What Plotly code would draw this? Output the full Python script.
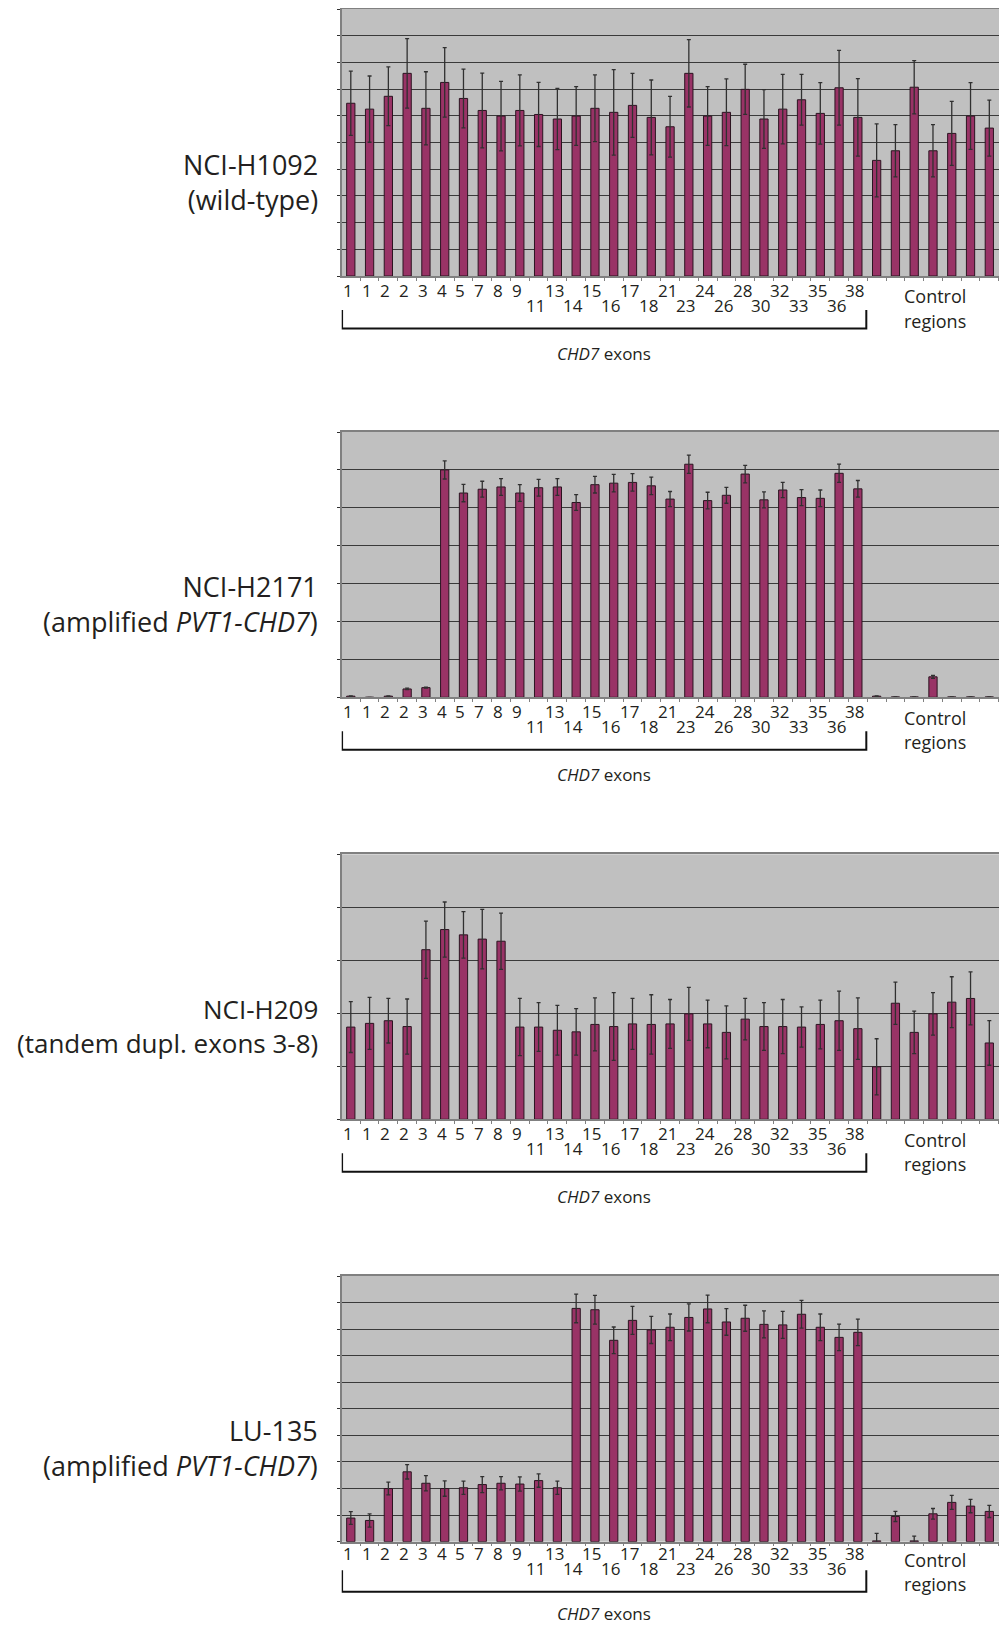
import plotly.graph_objects as go

# ---------------- data ----------------
exon_labels = ["1", "1", "2", "2", "3", "4", "5", "7", "8", "9", "11", "13", "14", "15",
               "16", "17", "18", "21", "23", "24", "26", "28", "30", "32", "33", "35", "36", "38"]
n_control = 8

panel_titles = [
    ("NCI-H1092", "(wild-type)"),
    ("NCI-H2171", "(amplified <i>PVT1-CHD7</i>)"),
    ("NCI-H209", "(tandem dupl. exons 3-8)"),
    ("LU-135", "(amplified <i>PVT1-CHD7</i>)"),
]

h1092_vals = [6.47, 6.25, 6.73, 7.59, 6.28, 7.25, 6.65, 6.20, 5.99, 6.20, 6.05, 5.88, 5.99, 6.28,
              6.13, 6.39, 5.94, 5.59, 7.59, 5.99, 6.13, 6.99, 5.88, 6.25, 6.60, 6.09, 7.05, 5.94,
              4.33, 4.69, 7.07, 4.69, 5.34, 5.99, 5.54, 2.28]
h1092_err = [1.20, 1.24, 1.10, 1.30, 1.37, 1.30, 1.10, 1.40, 1.30, 1.33, 1.20, 1.15, 1.10, 1.25,
             1.60, 1.20, 1.40, 1.14, 1.26, 1.10, 1.25, 0.94, 1.10, 1.30, 0.95, 1.15, 1.40, 1.45,
             1.37, 0.98, 1.00, 0.98, 1.20, 1.25, 1.05, 1.20]

h2171_vals = [0.03, 0.0, 0.03, 0.22, 0.255, 6.00, 5.39, 5.49, 5.55, 5.39, 5.53, 5.55, 5.14, 5.61,
              5.65, 5.67, 5.58, 5.23, 6.15, 5.19, 5.33, 5.89, 5.21, 5.47, 5.27, 5.25, 5.91, 5.50,
              0.03, 0.01, 0.01, 0.54, 0.01, 0.01, 0.01, 0.01]
h2171_err = [0.01, 0.0, 0.01, 0.02, 0.01, 0.24, 0.23, 0.21, 0.22, 0.22, 0.22, 0.22, 0.21, 0.22,
             0.23, 0.23, 0.23, 0.20, 0.24, 0.22, 0.21, 0.23, 0.21, 0.20, 0.21, 0.22, 0.24, 0.22,
             0.01, 0.0, 0.0, 0.04, 0.0, 0.0, 0.0, 0.0]

h209_vals = [1.74, 1.81, 1.86, 1.75, 3.20, 3.58, 3.48, 3.40, 3.36, 1.74, 1.74, 1.68, 1.65, 1.79,
             1.75, 1.80, 1.79, 1.80, 1.99, 1.80, 1.64, 1.89, 1.75, 1.75, 1.74, 1.79, 1.86, 1.71,
             0.99, 2.19, 1.64, 1.99, 2.21, 2.28, 1.44, 2.01]
h209_err = [0.48, 0.49, 0.42, 0.52, 0.54, 0.52, 0.44, 0.56, 0.53, 0.54, 0.46, 0.47, 0.44, 0.50,
            0.64, 0.48, 0.56, 0.46, 0.50, 0.45, 0.50, 0.39, 0.45, 0.51, 0.38, 0.46, 0.56, 0.58,
            0.53, 0.40, 0.40, 0.40, 0.48, 0.50, 0.42, 0.50]

lu135_vals = [0.89, 0.80, 2.00, 2.63, 2.20, 2.00, 2.03, 2.15, 2.20, 2.17, 2.30, 2.03, 8.78, 8.73,
              7.58, 8.33, 7.97, 8.07, 8.44, 8.76, 8.27, 8.41, 8.18, 8.16, 8.56, 8.07, 7.69, 7.88,
              0.03, 0.95, 0.03, 1.05, 1.48, 1.34, 1.14, 0.0]
lu135_err = [0.24, 0.25, 0.24, 0.27, 0.29, 0.29, 0.25, 0.30, 0.25, 0.27, 0.25, 0.25, 0.54, 0.54,
             0.50, 0.53, 0.51, 0.50, 0.51, 0.52, 0.50, 0.49, 0.51, 0.51, 0.52, 0.50, 0.50, 0.50,
             0.28, 0.19, 0.18, 0.20, 0.26, 0.25, 0.23, 0.0]

panel_values = [h1092_vals, h2171_vals, h209_vals, lu135_vals]
panel_errors = [h1092_err, h2171_err, h209_err, lu135_err]
panel_ymax = [10, 7, 5, 10]

# ---------------- layout constants (page pixels) ----------------
OFF = 8                      # default body margin of the html page
PAGE_W, PAGE_H = 1007, 1625
W, H = PAGE_W - OFF, PAGE_H - OFF
plot_left = 341.7
slot = 18.78
first_center = 350.8
panel_top = [9, 432, 854.3, 1276]
panel_base = [276, 697.3, 1119.3, 1541.7]
# pixel offsets below each axis: upper label row, lower label row, "Control",
# "regions", bracket top, bracket bottom, caption
below = [
    (14.5, 29.5, 20.4, 44.8, 34, 52.5, 77),
    (14.5, 29.5, 20.4, 44.8, 34, 52.5, 77),
    (14.5, 29.5, 20.4, 44.8, 34, 52.5, 77),
    (11.8, 27.0, 18.0, 42.5, 28.5, 50.0, 71.5),
]
title_sizes = [27, 27, 26, 27]

BAR = "#993366"
BG = "#c0c0c0"
TXT = "#231f20"
FONT = "Open Sans"


def px(p):
    return (p - OFF) / W


def py(p):
    return 1 - (p - OFF) / H


x_lo = -(first_center - plot_left) / slot
x_hi = x_lo + (PAGE_W - plot_left) / slot

fig = go.Figure()
xs_all = list(range(len(exon_labels) + n_control))
annotations = []
shapes = []

for k in range(4):
    ax = "" if k == 0 else str(k + 1)
    xref = "x" + ax
    yref = "y" + ax
    fig.add_trace(go.Bar(
        x=xs_all, y=panel_values[k],
        xaxis=xref, yaxis=yref,
        width=0.44,
        marker=dict(color=BAR, line=dict(color="#2b1420", width=1)),
        error_y=dict(type="data", array=panel_errors[k], visible=True,
                     color="#303030", thickness=1.3, width=2),
        showlegend=False, hoverinfo="skip",
    ))
    fig.update_layout(**{
        "xaxis" + ax: dict(
            domain=[px(plot_left), 1], range=[x_lo, x_hi], anchor=yref,
            showgrid=False, zeroline=False, showticklabels=False,
            showline=True, linecolor="#808080", linewidth=1.5, mirror=True,
            ticks="", fixedrange=True,
            minor=dict(ticks="outside", tick0=-0.5, dtick=1, ticklen=3,
                       tickcolor="#808080", tickwidth=1, showgrid=False),
        ),
        "yaxis" + ax: dict(
            domain=[py(panel_base[k]), py(panel_top[k])], range=[0, panel_ymax[k]],
            anchor=xref, dtick=1, showgrid=True, gridcolor="#3a3a3a", gridwidth=1.2,
            zeroline=False, showticklabels=False, showline=True,
            linecolor="#808080", linewidth=1.8, ticks="outside", ticklen=3,
            tickcolor="#303030", fixedrange=True,
        ),
    })

    base = panel_base[k]
    up_row, low_row, ctl_y, reg_y, br_top, br_bot, cap_y = below[k]
    # exon tick labels (staggered like the original)
    for i, lab in enumerate(exon_labels):
        lower = i >= 10 and (i - 10) % 2 == 0
        annotations.append(dict(
            x=i, xref=xref, y=py(base + (low_row if lower else up_row)), yref="paper",
            text=lab, showarrow=False, xanchor="center", yanchor="middle", xshift=-3,
            borderpad=0, font=dict(family=FONT, size=17, color=TXT),
        ))
    # control regions label
    annotations.append(dict(
        x=31.1, xref=xref, y=py(base + ctl_y), yref="paper", text="Control",
        showarrow=False, xanchor="center", yanchor="middle", borderpad=0,
        font=dict(family=FONT, size=18, color=TXT)))
    annotations.append(dict(
        x=31.1, xref=xref, y=py(base + reg_y), yref="paper", text="regions",
        showarrow=False, xanchor="center", yanchor="middle", borderpad=0,
        font=dict(family=FONT, size=18, color=TXT)))
    # CHD7 exons caption
    annotations.append(dict(
        x=13.5, xref=xref, y=py(base + cap_y), yref="paper", text="<i>CHD7</i> exons",
        showarrow=False, xanchor="center", yanchor="middle", borderpad=0,
        font=dict(family=FONT, size=17, color=TXT)))
    # cell line label (two lines, right aligned)
    annotations.append(dict(
        x=px(319), xref="paper", y=py(base - 93.6), yref="paper",
        text=panel_titles[k][0] + "<br>" + panel_titles[k][1],
        showarrow=False, xanchor="right", yanchor="middle", align="right", borderpad=0,
        font=dict(family=FONT, size=title_sizes[k], color=TXT)))
    # bracket under exons
    bx0, bx1 = x_lo + 0.02, 27.45
    ytop, ybot = py(base + br_top), py(base + br_bot)
    shapes.append(dict(type="path", xref=xref, yref="paper",
                       path=f"M {bx0},{ytop} L {bx0},{ybot} L {bx1},{ybot} L {bx1},{ytop}",
                       line=dict(color="#111111", width=2)))

fig.update_layout(
    width=W, height=H, margin=dict(l=0, r=0, t=0, b=0),
    paper_bgcolor="white", plot_bgcolor=BG,
    bargap=0.56, annotations=annotations, shapes=shapes,
    font=dict(family=FONT, color=TXT),
)

fig.write_html("out.html")
